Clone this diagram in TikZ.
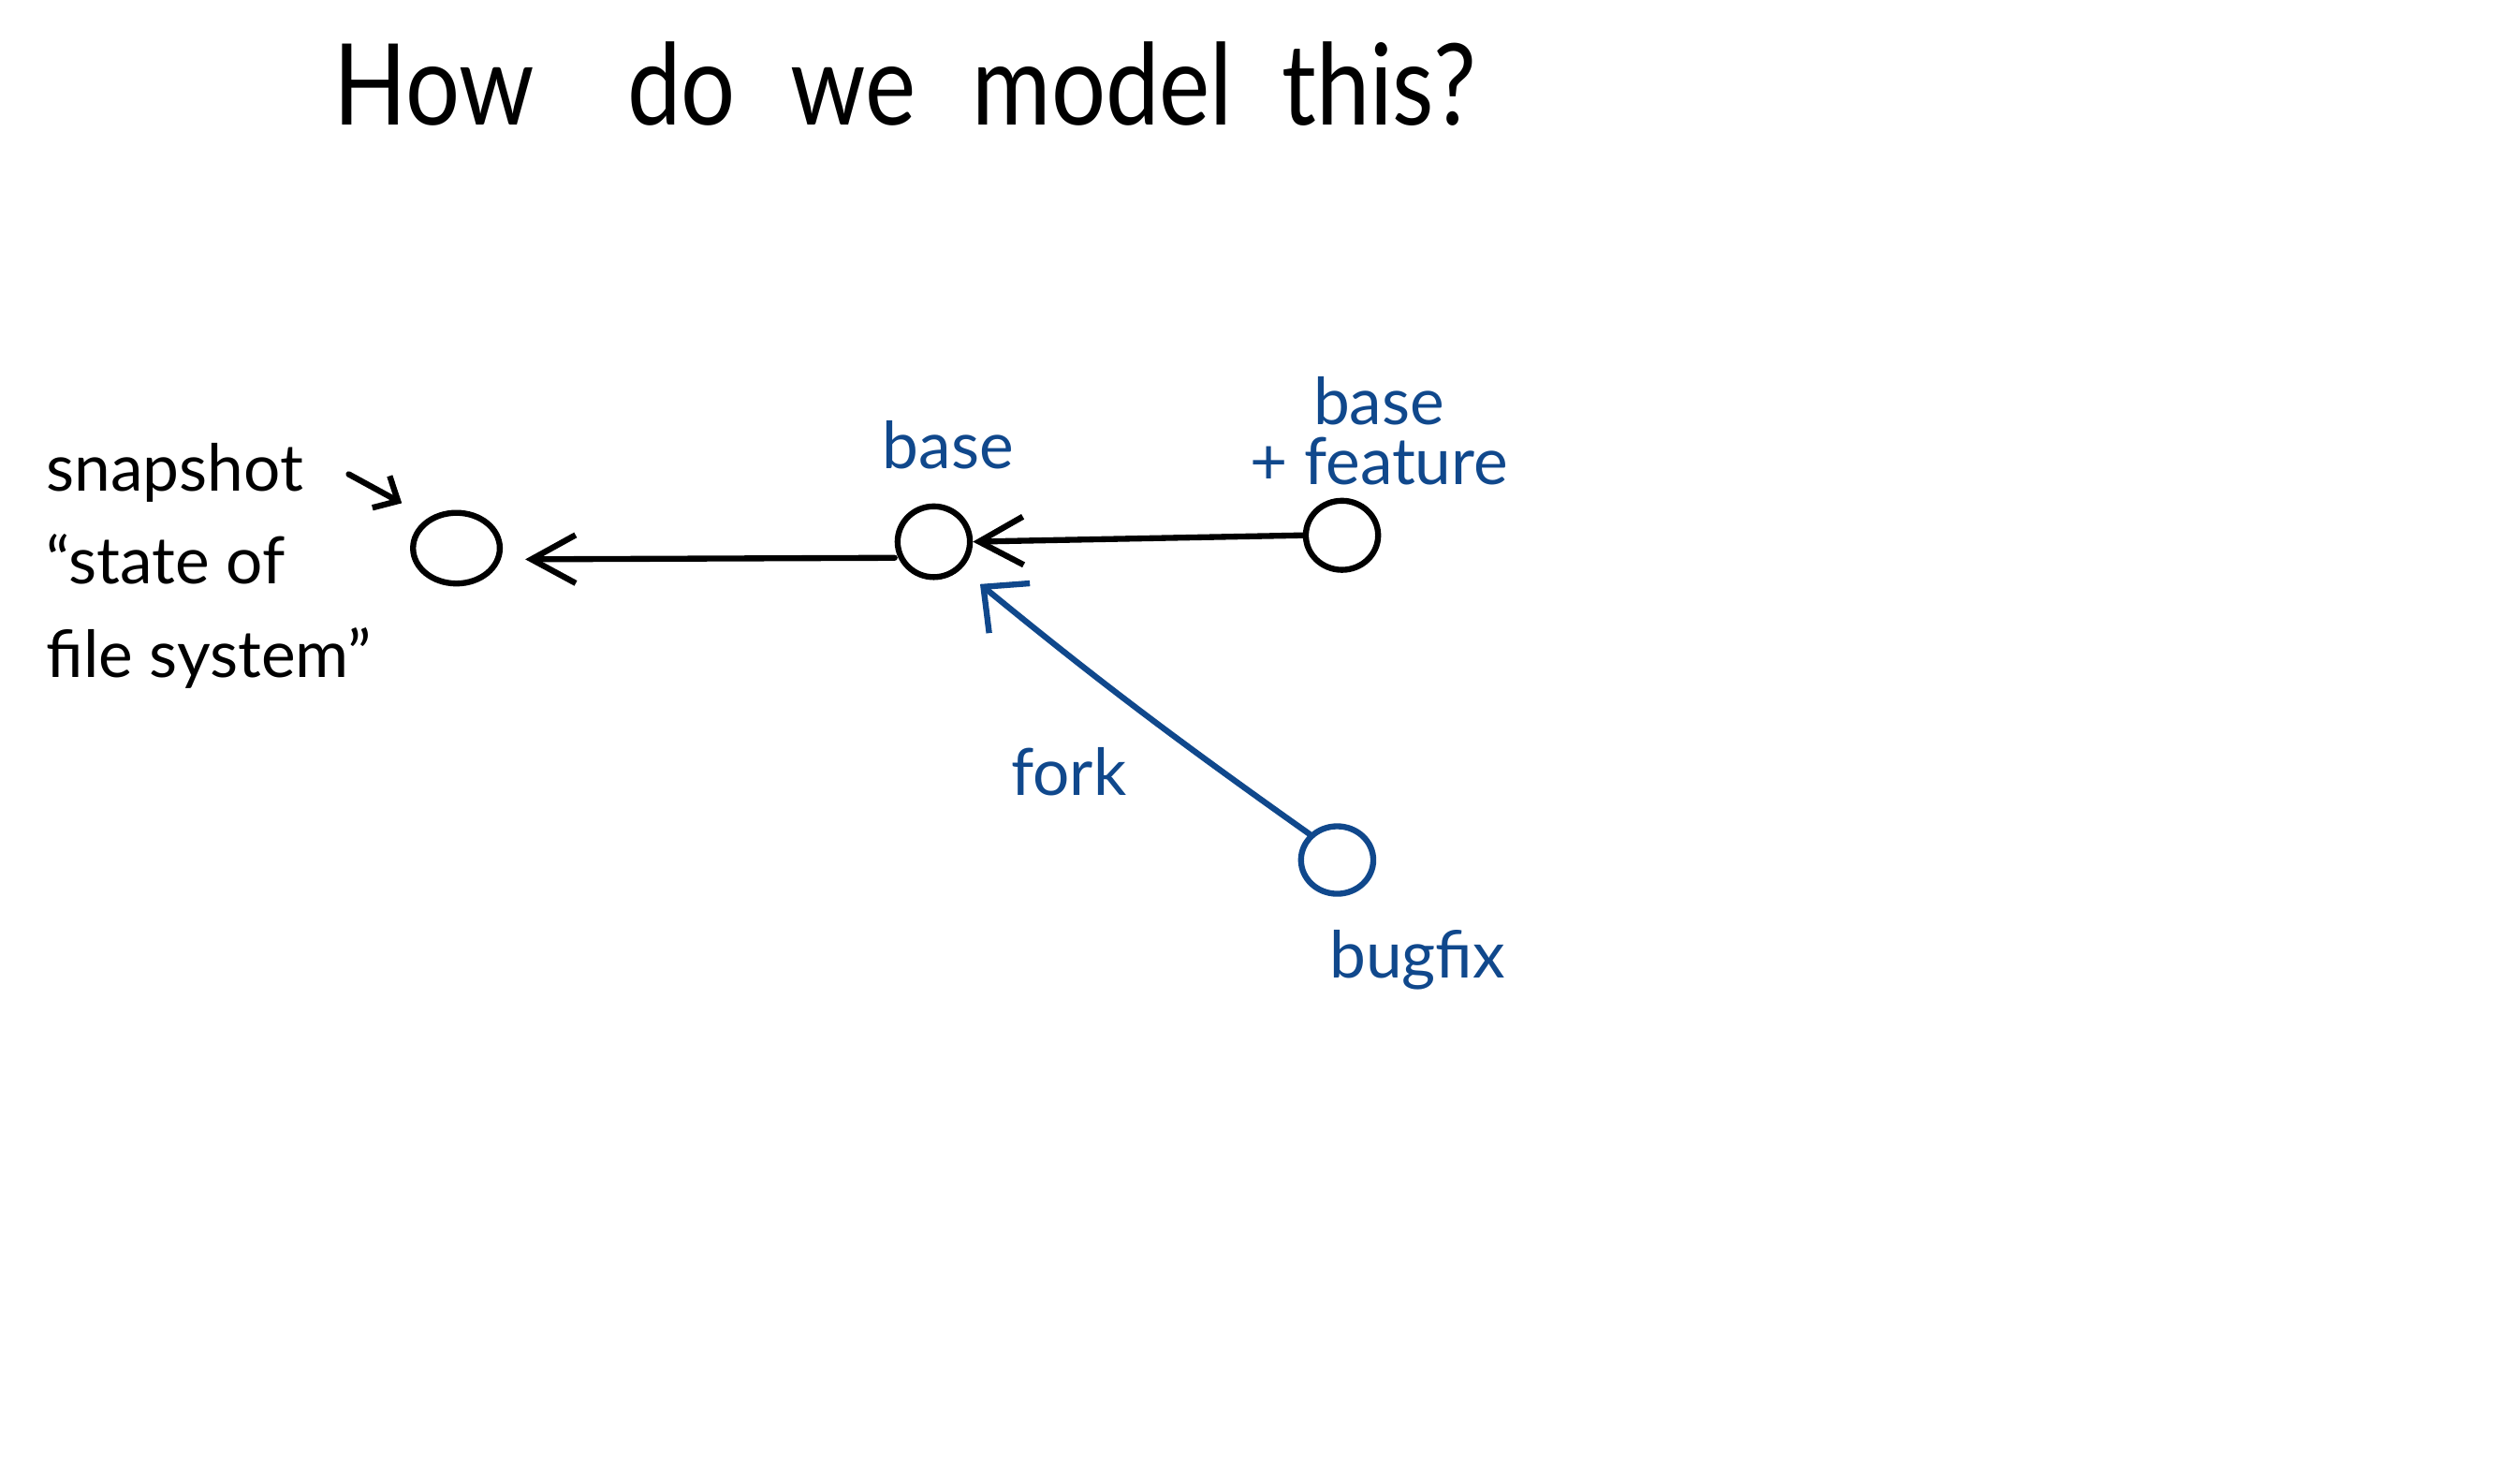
\documentclass[tikz,border=0pt]{standalone}
\usepackage{fontspec}
\setmainfont{Lato}
\usetikzlibrary{arrows.meta,shapes.geometric}
\definecolor{inkblue}{RGB}{16,72,140}
\begin{document}
\begin{tikzpicture}[x=0.02cm,y=-0.02cm, line width=2.1pt, line cap=round, line join=round,
  commit/.style={ellipse, draw, inner sep=0pt},
  hand/.style={font=\fontsize{23}{33}\selectfont},
  titleword/.style={font=\fontsize{40}{44}\selectfont, anchor=base, xscale=0.85},
  barb/.style={-{Straight Barb[length=0.55cm,width=0.6cm]}},
  forkbarb/.style={-{Straight Barb[length=0.42cm,width=0.8cm]}},
  smallbarb/.style={-{Straight Barb[length=0.24cm,width=0.45cm]}}]
\useasboundingbox (0,0) rectangle (1568,914);

% title
\node[titleword] (t1) at (270,78) {How};
\node[titleword] (t2) at (424,78) {do};
\node[titleword] (t3) at (531,78) {we};
\node[titleword] (t4) at (686,78) {model};
\node[titleword] (t5) at (858,78) {this?};

% commits
\node[commit, minimum width=1.08cm, minimum height=0.88cm] (A) at (284,341) {};
\node[commit, minimum width=0.9cm, minimum height=0.88cm] (B) at (581,337) {};
\node[commit, minimum width=0.9cm, minimum height=0.86cm] (C) at (835,333) {};
\node[commit, draw=inkblue, minimum width=0.9cm, minimum height=0.84cm] (D) at (832,535) {};

% labels
\node[hand, align=left] (snap) at (130,352) {snapshot\\“state of\\file system”};
\node[hand, text=inkblue] (lb) at (590,277) {base};
\node[hand, text=inkblue, align=center, font=\fontsize{23}{21}\selectfont] (lc) at (858,268) {base\\+ feature};
\node[hand, text=inkblue] (lfork) at (665,480) {fork};
\node[hand, text=inkblue] (lbug) at (882,597) {bugfix};

% connectors
\draw[barb, shorten >=0.28cm] ([yshift=-0.2cm]B.west) -- ([yshift=-0.14cm]A.east);
\draw[barb] (C.west) -- (B.east);
\draw[forkbarb, inkblue, shorten >=0.3cm] (D.north west) to[bend left=2] (B.south east);

\coordinate (sa1) at (217,295);
\coordinate (sa2) at (250,313);
\draw[smallbarb] (sa1) -- (sa2);
\end{tikzpicture}
\end{document}
